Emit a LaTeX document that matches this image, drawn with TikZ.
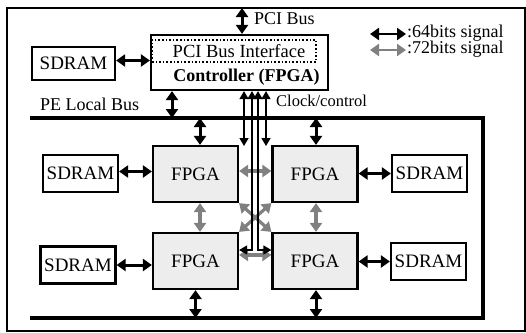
\documentclass[tikz,border=0pt]{standalone}
\usepackage{fontspec}
\setmainfont{Liberation Serif}
\usetikzlibrary{arrows.meta}
\begin{document}
\begin{tikzpicture}[x=1pt,y=-1pt,
  box/.style={draw,line width=2.2pt,inner sep=0pt,font=\fontsize{19}{21}\selectfont},
  sdram/.style={box,minimum width=75pt,minimum height=37pt},
  fpga/.style={box,fill=gray!14,minimum width=85pt,minimum height=56pt},
  lbl/.style={inner sep=0pt,anchor=west,font=\fontsize{18}{20}\selectfont},
  blk/.style={line width=3pt,{Triangle[length=9pt,width=12pt]}-{Triangle[length=9pt,width=12pt]}},
  gry/.style={line width=3.2pt,black!50,{Triangle[length=9pt,width=12pt]}-{Triangle[length=9pt,width=12pt]}},
  clk/.style={line width=1.4pt,{Triangle[length=8pt,width=9pt]}-{Triangle[length=8pt,width=9pt]}}
]
\useasboundingbox (0,0) rectangle (526,332);
% outer frame
\draw[line width=1.5pt] (7,8) rectangle (525,331);

% controller
\node[draw,line width=2.2pt,minimum width=177pt,minimum height=55pt,inner sep=0pt] (ctrl) at (239.5,62.5) {};
\node[draw,dotted,line width=1.6pt,minimum width=164pt,minimum height=22pt,inner sep=0pt] (pcii) at (234,51) {};
\node[inner sep=0pt,font=\fontsize{18.5}{20}\selectfont] (pcit) at (239,51) {PCI Bus Interface};
\node[inner sep=0pt,font=\fontsize{18}{20}\selectfont\bfseries] (ctrlt) at (246.5,77) {Controller (FPGA)};

% PCI bus
\coordinate (pcitop) at (242,8);
\draw[blk] (pcitop) -- (pcitop |- ctrl.north);
\node[lbl] (pcil) at (254,19) {PCI Bus};

% legend
\coordinate (lg1a) at (370,34);
\coordinate (lg1b) at (406,34);
\coordinate (lg2a) at (370,50);
\coordinate (lg2b) at (406,50);
\draw[blk,line width=2.4pt] (lg1a) -- (lg1b);
\draw[gry,line width=2.4pt] (lg2a) -- (lg2b);
\node[lbl] (lgt1) at (407,33) {:64bits signal};
\node[lbl] (lgt2) at (407,49.5) {:72bits signal};

% top SDRAM
\node[sdram,minimum width=83pt,minimum height=33pt] (sd0) at (73.5,63.5) {SDRAM};
\draw[blk] ([yshift=3pt]sd0.east) -- ([yshift=3pt]sd0.east -| ctrl.west);

% labels
\node[lbl] (pel) at (40,104) {PE Local Bus};
\node[lbl,font=\fontsize{16.5}{18}\selectfont] (ckl) at (276,101) {Clock/control};

% PE local bus
\coordinate (b1) at (30,118);
\coordinate (b2) at (483,118);
\coordinate (b3) at (483,318);
\coordinate (b4) at (30,318);
\draw[line width=3.2pt] (b1) -- (b2) -- (b3) -- (b4);

% controller to bus
\coordinate (cb) at (172,118);
\draw[blk] (cb |- ctrl.south) -- (cb);

% FPGAs
\node[fpga] (ul) at (195.5,174) {FPGA};
\node[fpga] (ur) at (315,174) {FPGA};
\node[fpga] (ll) at (195.5,261) {FPGA};
\node[fpga] (lr) at (315,261) {FPGA};

% SDRAMs
\node[sdram] (s1) at (80.5,173.5) {SDRAM};
\node[sdram] (s2) at (429.5,173.5) {SDRAM};
\node[sdram] (s3) at (78,265) {SDRAM};
\node[sdram] (s4) at (428.5,261.5) {SDRAM};
\draw[blk] ([yshift=2pt]s1.east) -- ([yshift=2pt]s1.east -| ul.west);
\draw[blk] (ur.east |- s2.west) -- (s2.west);
\draw[blk] (s3.east) -- (s3.east -| ll.west);
\draw[blk] (lr.east |- s4.west) -- (s4.west);

% bus to FPGAs
\draw[blk] ([xshift=4.5pt]ul.north |- b1) -- ([xshift=4.5pt]ul.north);
\draw[blk] ([xshift=1pt]ur.north |- b1) -- ([xshift=1pt]ur.north);
\draw[blk] (ll.south |- b4) -- (ll.south);
\draw[blk] ([xshift=1pt]lr.south |- b4) -- ([xshift=1pt]lr.south);

% 72-bit links
\draw[gry] ([xshift=4.5pt]ul.south) -- ([xshift=4.5pt]ul.south |- ll.north);
\draw[gry] ([xshift=1pt]ur.south) -- ([xshift=1pt]ur.south |- lr.north);
\draw[gry] ([yshift=3pt]ul.east) -- ([yshift=3pt]ul.east -| ur.west);
\draw[gry] ([yshift=6pt]ll.east) -- ([yshift=6pt]ll.east -| lr.west);
\draw[gry] (ul.south east) -- (lr.north west);
\draw[gry] (ur.south west) -- (ll.north east);

% clock/control lines
\coordinate (k1) at (244,146);
\coordinate (k4) at (266,146);
\coordinate (k2) at (252,250);
\coordinate (k3) at (258,250);
\draw[clk] (k1 |- ctrl.south) -- (k1);
\draw[clk] (k4 |- ctrl.south) -- (k4);
\draw[clk] (k2 |- ctrl.south) -- (k2) -- (k2 -| ll.east);
\draw[clk] (k3 |- ctrl.south) -- (k3) -- (k3 -| lr.west);
\end{tikzpicture}
\end{document}
